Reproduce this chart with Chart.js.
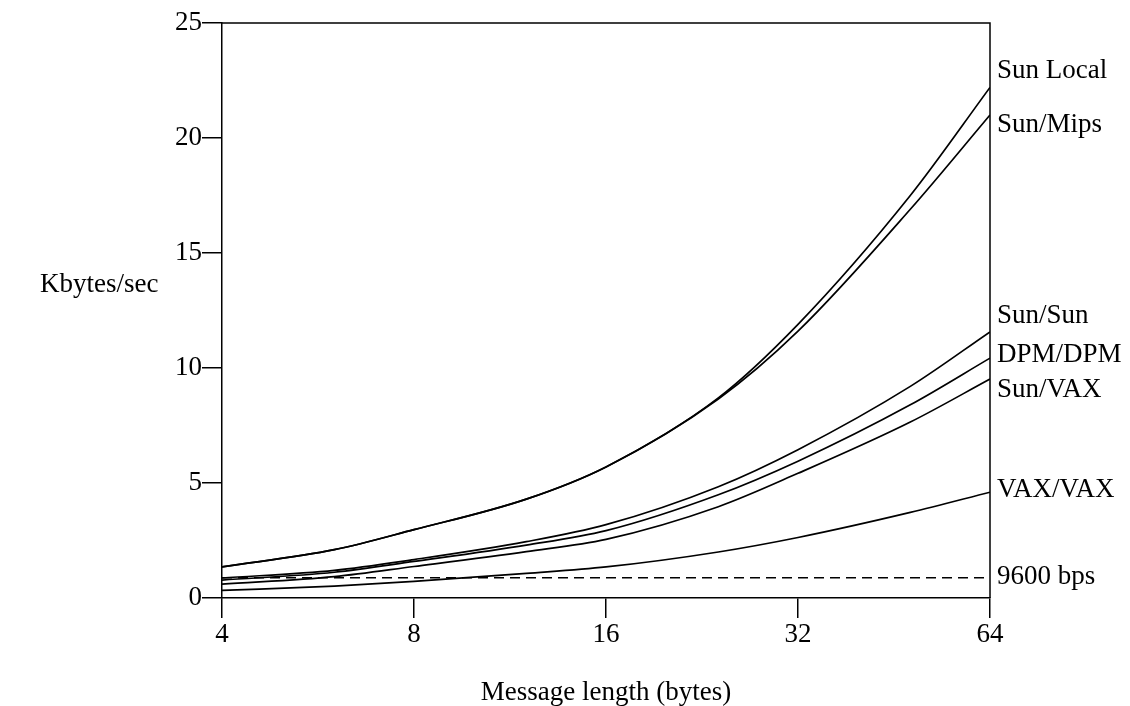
<!DOCTYPE html>
<html>
<head>
<meta charset="utf-8">
<script src="https://cdn.jsdelivr.net/npm/chart.js@4"></script>
<style>
  html, body { margin: 0; padding: 0; background: #fff; }
  #wrap { width: 1130px; height: 706px; position: relative; }
</style>
</head>
<body>
<div id="wrap"><canvas id="c" width="1130" height="706"></canvas></div>
<script>
// ---- data ----
const messageLengths = [4, 6, 8, 12, 16, 24, 32, 48, 64];
const xTickValues = [4, 8, 16, 32, 64];
const yTickValues = [0, 5, 10, 15, 20, 25];

const sunLocal = [1.35, 2.10, 2.97, 4.30, 5.70, 8.70, 11.90, 17.50, 22.20];
const sunMips  = [1.35, 2.10, 2.97, 4.30, 5.70, 8.65, 11.60, 16.90, 21.00];
const sunSun   = [0.87, 1.20, 1.67, 2.45, 3.19, 4.84, 6.45, 9.20, 11.57];
const dpmDpm   = [0.78, 1.12, 1.59, 2.30, 2.93, 4.49, 5.95, 8.40, 10.43];
const sunVax   = [0.60, 0.93, 1.37, 2.02, 2.55, 3.97, 5.42, 7.65, 9.52];
const vaxVax   = [0.33, 0.52, 0.72, 1.07, 1.35, 2.00, 2.63, 3.72, 4.60];
const bps9600  = [0.88, 0.88, 0.88, 0.88, 0.88, 0.88, 0.88, 0.88, 0.88];

const seriesNames = ["Sun Local", "Sun/Mips", "Sun/Sun", "DPM/DPM", "Sun/VAX", "VAX/VAX", "9600 bps"];
const seriesValues = [sunLocal, sunMips, sunSun, dpmDpm, sunVax, vaxVax, bps9600];

const xTitle = "Message length (bytes)";
const yTitle = "Kbytes/sec";

// ---- styling ----
const FONT = '"Liberation Serif", "Times New Roman", serif';
const FS = 27;
// baseline offset (px) of each end label relative to its line's end point
const labelOffsets = [-9, 17, -9, 4, 18, 5, 6];

const datasets = seriesNames.map((name, i) => ({
  label: name,
  data: messageLengths.map((x, j) => ({ x: x, y: seriesValues[i][j] })),
  borderColor: '#000',
  borderWidth: 1.7,
  borderDash: name === "9600 bps" ? [10, 6] : [],
  pointRadius: 0,
  fill: false,
  cubicInterpolationMode: 'monotone',
  tension: 0.4
}));

const framePlugin = {
  id: 'framePlugin',
  afterDraw(chart) {
    const ctx = chart.ctx;
    const a = chart.chartArea;
    ctx.save();
    ctx.strokeStyle = '#000';
    ctx.lineWidth = 1.5;
    ctx.beginPath();
    ctx.moveTo(a.left, a.top);
    ctx.lineTo(a.right, a.top);
    ctx.lineTo(a.right, a.bottom);
    ctx.stroke();

    ctx.fillStyle = '#000';
    ctx.font = FS + 'px ' + FONT;
    // right-hand series labels
    ctx.textAlign = 'left';
    ctx.textBaseline = 'alphabetic';
    chart.data.datasets.forEach((ds, i) => {
      const meta = chart.getDatasetMeta(i);
      const last = meta.data[meta.data.length - 1];
      ctx.fillText(ds.label, a.right + 7, last.y + labelOffsets[i]);
    });
    // y title (horizontal, left)
    ctx.fillText(yTitle, 40, 292);
    // x title
    ctx.textAlign = 'center';
    ctx.fillText(xTitle, (a.left + a.right) / 2, 700);
    ctx.restore();
  }
};

new Chart(document.getElementById('c'), {
  type: 'line',
  data: { datasets: datasets },
  plugins: [framePlugin],
  options: {
    responsive: false,
    animation: false,
    events: [],
    layout: { padding: { left: 0, right: 140, top: 23, bottom: 0 } },
    plugins: { legend: { display: false }, tooltip: { enabled: false } },
    scales: {
      x: {
        type: 'logarithmic',
        min: 4,
        max: 64,
        afterBuildTicks(scale) { scale.ticks = xTickValues.map(v => ({ value: v })); },
        afterFit(scale) { scale.height = 108; },
        grid: { display: true, drawOnChartArea: false, drawTicks: true, tickLength: 20, color: '#000', lineWidth: 1.5 },
        border: { display: true, color: '#000', width: 1.5 },
        ticks: {
          color: '#000',
          font: { family: FONT, size: FS },
          padding: 1,
          maxRotation: 0,
          autoSkip: false,
          callback: (v) => String(v)
        }
      },
      y: {
        type: 'linear',
        min: 0,
        max: 25,
        afterBuildTicks(scale) { scale.ticks = yTickValues.map(v => ({ value: v })); },
        afterFit(scale) { scale.width = 222; },
        grid: { display: true, drawOnChartArea: false, drawTicks: true, tickLength: 20, color: '#000', lineWidth: 1.5 },
        border: { display: true, color: '#000', width: 1.5 },
        ticks: {
          color: '#000',
          font: { family: FONT, size: FS },
          padding: 0,
          callback: (v) => String(v)
        }
      }
    }
  }
});
</script>
</body>
</html>
